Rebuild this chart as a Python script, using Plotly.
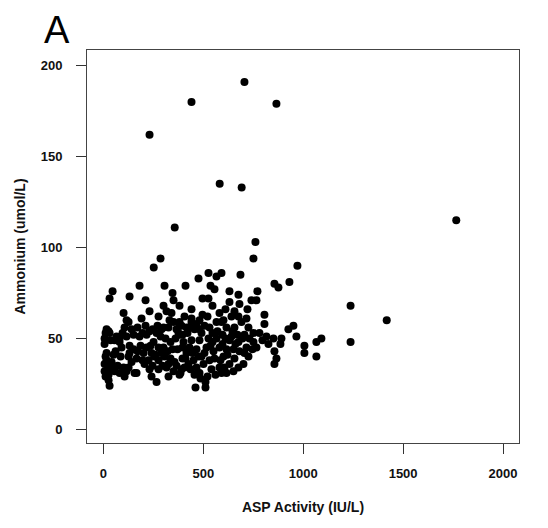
import plotly.graph_objects as go

asp = [
706,441,866,231,582,692,357,1766,1418,1237,1237,761,751,286,252,526,591,566,686,476,
181,411,306,536,556,631,771,46,31,131,211,346,351,496,526,676,631,681,741,766,
301,231,381,101,116,806,806,316,341,406,656,676,971,856,876,931,951,926,966,816,
851,891,1091,1066,1006,1006,1066,866,856,826,856,886,
16,31,26,126,81,116,151,181,216,231,266,291,326,351,376,131,151,131,126,166,
201,216,251,276,301,241,226,206,101,126,116,166,231,276,316,351,266,326,356,276,
256,306,16,16,26,26,26,26,31,51,56,41,51,56,81,91,301,331,381,391,
416,441,481,531,566,591,616,656,691,726,751,766,716,676,641,681,726,656,631,606,
581,561,511,511,541,501,466,451,426,391,381,416,466,516,551,581,616,566,526,481,
441,401,381,601,531,491,431,631,706,751,326,386,676,156,441,481,521,601,641,716,381,
6,6,11,6,11,6,11,36,66,96,106,141,171,196,211,246,271,286,311,336,
361,396,421,456,491,506,546,571,596,611,646,671,696,731,781,796,186,236,261,291,
321,346,371,396,411,446,476,506,536,556,586,621,651,706,746,171,196,246,296,336,
366,406,436,456,481,486,521,591,616,651,701,461,241,141,86,71,61,81,106,396,
546,596,661,431,466,366,191,276,496,581,611,721,546,441,
]

ammonium = [
191,180,179,162,135,133,111,115,60,68,48,103,94,94,89,86,86,84,85,83,
79,79,79,79,77,76,76,76,72,73,71,75,71,72,72,74,70,69,71,71,
68,65,68,64,60,63,58,65,64,62,65,62,90,80,78,81,57,55,51,51,
50,50,50,48,46,42,40,39,36,47,43,47,
55,53,54,59,50,51,52,51,52,54,53,55,56,59,53,46,44,42,40,39,
42,45,48,45,45,42,38,36,34,34,32,31,33,33,34,32,26,36,37,38,
40,40,42,38,35,33,30,27,24,34,32,37,41,49,48,45,56,60,57,57,
56,59,55,56,59,59,56,56,59,56,53,45,45,48,51,43,40,39,36,34,
34,30,26,23,33,36,34,38,36,33,30,42,44,45,43,45,44,50,50,49,
49,48,52,40,38,40,45,49,52,48,29,31,34,31,61,60,62,60,62,61,59,
50,47,53,32,29,36,40,49,51,53,56,55,56,53,57,55,57,51,50,48,
50,52,53,55,53,57,53,54,52,50,54,52,50,50,53,49,46,46,41,42,
43,44,44,45,39,42,40,42,46,39,38,41,44,42,44,43,38,35,35,39,
35,34,33,30,31,28,29,31,31,32,36,23,29,37,40,35,43,31,29,39,
48,47,47,56,58,55,61,62,63,64,66,66,68,66,
]

x_ticks = [0, 500, 1000, 1500, 2000]
y_ticks = [0, 50, 100, 150, 200]

fig = go.Figure()
fig.add_trace(go.Scatter(
    x=asp, y=ammonium, mode="markers",
    marker=dict(color="black", size=8, line=dict(width=0)),
    showlegend=False, hoverinfo="x+y",
))

tickfont = dict(family="Liberation Sans, Arial, sans-serif", size=13, color="#111", weight="bold")
titlefont = dict(family="Liberation Sans, Arial, sans-serif", size=14, color="#111", weight="bold")

fig.update_xaxes(
    range=[-82, 2080], tickvals=x_ticks, ticktext=[str(v) for v in x_ticks],
    showgrid=False, zeroline=False, showline=True, mirror=True,
    linecolor="#444", linewidth=1, ticks="outside", ticklen=10, tickcolor="#333",
    tickwidth=1, tickfont=tickfont, ticklabelstandoff=8,
    title=dict(text="ASP Activity (IU/L)", font=titlefont, standoff=22),
)
fig.update_yaxes(
    range=[-7.5, 208.6], tickvals=y_ticks, ticktext=[str(v) for v in y_ticks],
    showgrid=False, zeroline=False, showline=True, mirror=True,
    linecolor="#444", linewidth=1, ticks="outside", ticklen=10, tickcolor="#333",
    tickwidth=1, tickfont=tickfont, ticklabelstandoff=11,
    title=dict(text="Ammonium (umol/L)", font=titlefont, standoff=11),
)

fig.add_annotation(
    text="A", xref="paper", yref="paper", x=-0.069, y=1.051,
    xanchor="center", yanchor="middle", showarrow=False,
    font=dict(family="Liberation Sans, Arial, sans-serif", size=38, color="black"),
)

fig.update_layout(
    width=548, height=528,
    margin=dict(l=77, r=37, t=42, b=93),
    paper_bgcolor="white", plot_bgcolor="white",
)

fig.write_html("out.html")
